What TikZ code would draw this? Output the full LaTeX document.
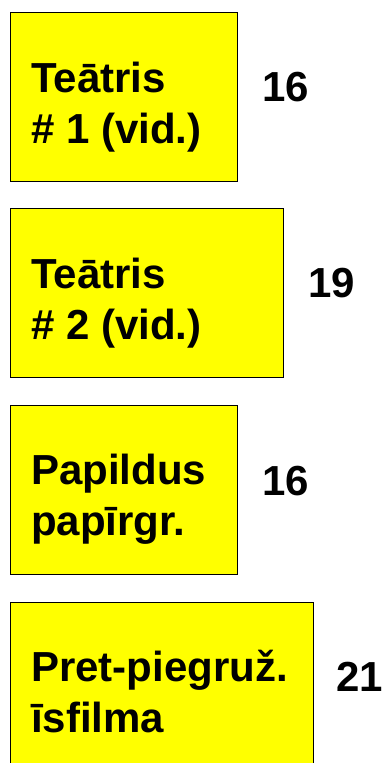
\documentclass[tikz,border=0pt]{standalone}
\usepackage{fontspec}
\setmainfont{Liberation Sans}
\usetikzlibrary{positioning}
\definecolor{boxyellow}{RGB}{255,255,0}

\begin{document}
\begin{tikzpicture}[x=1pt,y=-1pt,
    box/.style={draw=black, line width=1.2pt, fill=boxyellow, anchor=north west,
                inner sep=0pt, minimum height=169pt},
    txt/.style={anchor=north west, inner sep=0pt, align=left,
                font=\fontsize{42}{51}\selectfont\bfseries},
    num/.style={inner sep=0pt, font=\fontsize{42}{51}\selectfont\bfseries}]
    \useasboundingbox (0,0) rectangle (385,763);

    % boxes
    \node[box, minimum width=227pt] (b1) at (10,12) {};
    \node[box, minimum width=273pt] (b2) at (10,208) {};
    \node[box, minimum width=227pt] (b3) at (10,405) {};
    \node[box, minimum width=303pt] (b4) at (10,602) {};

    % texts
    \node[txt] (t1) at ([shift={(21,50)}]b1.north west) {Teātris\\\# 1 (vid.)};
    \node[txt] (t2) at ([shift={(21,50)}]b2.north west) {Teātris\\\# 2 (vid.)};
    \node[txt] (t3) at ([shift={(21,49)}]b3.north west) {Papildus\\papīrgr.};
    \node[txt] (t4) at ([shift={(21,48)}]b4.north west) {Pret-piegruž.\\īsfilma};

    % numbers
    \node[num, right=24pt of b1, yshift=10pt] (n1) {16};
    \node[num, right=24pt of b2, yshift=10pt] (n2) {19};
    \node[num, right=24pt of b3, yshift=9pt] (n3) {16};
    \node[num, right=22pt of b4, yshift=10pt] (n4) {21};
\end{tikzpicture}
\end{document}
